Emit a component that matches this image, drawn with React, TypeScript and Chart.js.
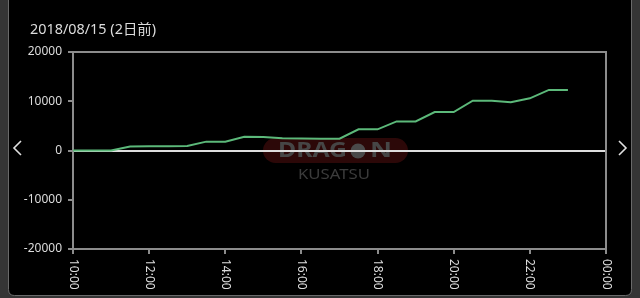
import React, { useEffect, useRef } from "react";
import { Chart, registerables } from "chart.js";

Chart.register(...registerables);

const titleText = "2018/08/15 (2日前)";
const times = [
  "10:00", "10:30", "11:00", "11:30", "12:00", "12:30", "13:00", "13:30", "14:00",
  "14:30", "15:00", "15:30", "16:00", "16:30", "17:00", "17:30", "18:00", "18:30",
  "19:00", "19:30", "20:00", "20:30", "21:00", "21:30", "22:00", "22:30", "23:00",
];
const values = [
  0, 0, 0, 800, 850, 850, 900, 1800, 1800,
  2800, 2750, 2500, 2450, 2400, 2400, 4300, 4300, 5900,
  5900, 7800, 7800, 10100, 10100, 9800, 10600, 12300, 12300,
];
const yTicks = [-20000, -10000, 0, 10000, 20000];
const xTickHours = [10, 12, 14, 16, 18, 20, 22, 24];

const toHours = (t: string) => {
  const [h, m] = t.split(":").map(Number);
  return h + m / 60;
};
const fmtHour = (h: number) => String(h % 24).padStart(2, "0") + ":00";

const FONT = "'Noto Sans', 'Noto Sans CJK JP', sans-serif";

function fitText(ctx: any, text: string, x: number, y: number, w: number) {
  const m = ctx.measureText(text).width;
  ctx.save();
  ctx.translate(x, y);
  ctx.scale(w / m, 1);
  ctx.fillText(text, 0, 0);
  ctx.restore();
}

const framePlugin = {
  id: "frame",
  beforeDraw(chart: any) {
    const { ctx, width, height } = chart;
    ctx.save();
    ctx.fillStyle = "#353535";
    ctx.fillRect(0, 0, width, height);
    // panel
    const x0 = 8.5, x1 = 631.5, y0 = -20, y1 = 295.5, r = 6;
    ctx.beginPath();
    ctx.moveTo(x0, y0);
    ctx.lineTo(x1, y0);
    ctx.lineTo(x1, y1 - r);
    ctx.quadraticCurveTo(x1, y1, x1 - r, y1);
    ctx.lineTo(x0 + r, y1);
    ctx.quadraticCurveTo(x0, y1, x0, y1 - r);
    ctx.closePath();
    ctx.fillStyle = "#000";
    ctx.fill();
    ctx.strokeStyle = "#6a6a6a";
    ctx.lineWidth = 1;
    ctx.stroke();

    // watermark
    const px = 263, py = 138, pw = 145, ph = 25;
    ctx.beginPath();
    ctx.moveTo(px + ph / 2, py);
    ctx.lineTo(px + pw - ph / 2, py);
    ctx.arc(px + pw - ph / 2, py + ph / 2, ph / 2, -Math.PI / 2, Math.PI / 2);
    ctx.lineTo(px + ph / 2, py + ph);
    ctx.arc(px + ph / 2, py + ph / 2, ph / 2, Math.PI / 2, Math.PI * 1.5);
    ctx.closePath();
    ctx.fillStyle = "#2c0808";
    ctx.fill();
    ctx.fillStyle = "#464646";
    ctx.font = "bold 22px " + FONT;
    ctx.textBaseline = "middle";
    ctx.textAlign = "left";
    fitText(ctx, "DRAG", 278, 151, 69);
    ctx.beginPath();
    ctx.arc(358, 151, 7.5, 0, Math.PI * 2);
    ctx.fillStyle = "#4a4a4a";
    ctx.fill();
    ctx.fillStyle = "#464646";
    fitText(ctx, "N", 370, 151, 22);
    ctx.font = "15px " + FONT;
    ctx.fillStyle = "#3c3c3c";
    fitText(ctx, "KUSATSU", 298, 175, 72);

    // title
    ctx.font = "14px " + FONT;
    ctx.fillStyle = "#dcdcdc";
    ctx.textAlign = "left";
    ctx.textBaseline = "middle";
    fitText(ctx, titleText, 30, 30, 126);

    // arrows
    ctx.strokeStyle = "#e0e0e0";
    ctx.lineWidth = 1.6;
    ctx.beginPath();
    ctx.moveTo(21, 141);
    ctx.lineTo(14, 148);
    ctx.lineTo(21, 155);
    ctx.stroke();
    ctx.beginPath();
    ctx.moveTo(619, 141);
    ctx.lineTo(626, 148);
    ctx.lineTo(619, 155);
    ctx.stroke();
    ctx.restore();
  },
  afterDraw(chart: any) {
    const { ctx, chartArea } = chart;
    const xs = chart.scales.x;
    ctx.save();
    ctx.strokeStyle = "#8c8c8c";
    ctx.lineWidth = 2;
    ctx.beginPath();
    ctx.moveTo(chartArea.left, chartArea.top);
    ctx.lineTo(chartArea.right, chartArea.top);
    ctx.lineTo(chartArea.right, chartArea.bottom);
    ctx.stroke();
    ctx.font = "12px " + FONT;
    ctx.fillStyle = "#dcdcdc";
    ctx.textAlign = "left";
    ctx.textBaseline = "middle";
    xs.ticks.forEach((t: any, i: number) => {
      const x = xs.getPixelForTick(i);
      ctx.save();
      ctx.translate(x, chartArea.bottom + 10);
      ctx.rotate(Math.PI / 2);
      ctx.fillText(fmtHour(t.value), 0, 0);
      ctx.restore();
    });
    ctx.restore();
  },
};

export default function App() {
  const ref = useRef<HTMLCanvasElement>(null);
  useEffect(() => {
    document.body.style.margin = "0";
    const data = times.map((t, i) => ({ x: toHours(t), y: values[i] }));
    const chart = new Chart(ref.current!, {
      type: "line",
      data: {
        datasets: [
          {
            data,
            borderColor: "#5cb97a",
            borderWidth: 2,
            pointRadius: 0,
            tension: 0,
            fill: false,
          },
        ],
      },
      options: {
        animation: false,
        responsive: false,
        layout: { padding: { top: 52, right: 34, left: 0, bottom: 0 } },
        plugins: { legend: { display: false }, tooltip: { enabled: false } },
        scales: {
          x: {
            type: "linear",
            min: 10,
            max: 24,
            afterBuildTicks: (s: any) => {
              s.ticks = xTickHours.map((v) => ({ value: v }));
            },
            afterFit: (s: any) => {
              s.height = 49;
            },
            ticks: { display: false },
            grid: {
              color: "rgba(0,0,0,0)",
              tickColor: "#8c8c8c",
              tickLength: 5,
              lineWidth: 2,
            },
            border: { color: "#8c8c8c", width: 2 },
          },
          y: {
            min: -20000,
            max: 20000,
            afterBuildTicks: (s: any) => {
              s.ticks = yTicks.map((v) => ({ value: v }));
            },
            afterFit: (s: any) => {
              s.width = 73;
            },
            ticks: {
              color: "#dcdcdc",
              font: { size: 12, family: FONT },
              padding: 6,
              callback: (v: any) => String(v),
            },
            grid: {
              color: (c: any) => (c.tick && c.tick.value === 0 ? "#dedede" : "rgba(0,0,0,0)"),
              tickColor: "#8c8c8c",
              tickLength: 5,
              lineWidth: 2,
            },
            border: { color: "#8c8c8c", width: 2 },
          },
        },
      },
      plugins: [framePlugin],
    });
    return () => chart.destroy();
  }, []);
  return (
    <div style={{ position: "fixed", left: 0, top: 0, width: 640, height: 298 }}>
      <canvas ref={ref} width={640} height={298} style={{ display: "block" }} />
    </div>
  );
}
